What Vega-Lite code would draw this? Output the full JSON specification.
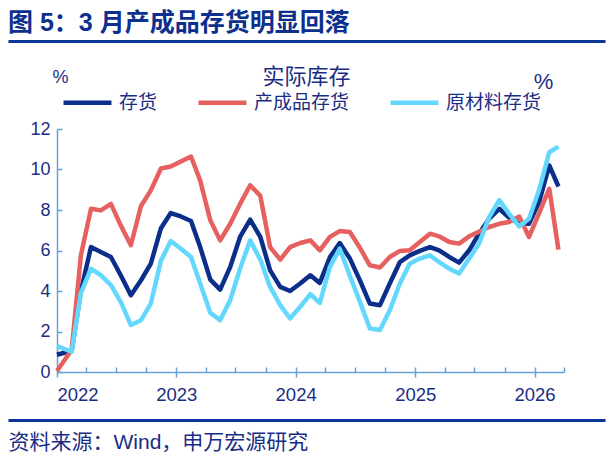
{
  "$schema": "https://vega.github.io/schema/vega-lite/v6.json",
  "width": 507,
  "height": 243,
  "autosize": {"type": "none"},
  "padding": {"left": 57, "top": 129, "right": 50, "bottom": 89},
  "background": "white",
  "title": {
    "text": "图 5：3 月产成品存货明显回落",
    "anchor": "start",
    "frame": "group",
    "dx": -49,
    "offset": 5,
    "fontSize": 25,
    "fontWeight": "bold",
    "font": "Liberation Sans, Noto Sans CJK SC",
    "color": "#0d2f8d"
  },
  "data": {
    "values": [
      {"date": "2022-01-01", "series": "存货", "value": 0.85},
      {"date": "2022-02-15", "series": "存货", "value": 1.05},
      {"date": "2022-03-15", "series": "存货", "value": 4.0},
      {"date": "2022-04-15", "series": "存货", "value": 6.17},
      {"date": "2022-05-15", "series": "存货", "value": 5.93},
      {"date": "2022-06-15", "series": "存货", "value": 5.68},
      {"date": "2022-07-15", "series": "存货", "value": 4.78},
      {"date": "2022-08-15", "series": "存货", "value": 3.79},
      {"date": "2022-09-15", "series": "存货", "value": 4.53},
      {"date": "2022-10-15", "series": "存货", "value": 5.35},
      {"date": "2022-11-15", "series": "存货", "value": 7.1},
      {"date": "2022-12-15", "series": "存货", "value": 7.85},
      {"date": "2023-01-15", "series": "存货", "value": 7.68},
      {"date": "2023-02-15", "series": "存货", "value": 7.46},
      {"date": "2023-03-15", "series": "存货", "value": 6.17},
      {"date": "2023-04-15", "series": "存货", "value": 4.56},
      {"date": "2023-05-15", "series": "存货", "value": 4.07},
      {"date": "2023-06-15", "series": "存货", "value": 5.19},
      {"date": "2023-07-15", "series": "存货", "value": 6.67},
      {"date": "2023-08-15", "series": "存货", "value": 7.52},
      {"date": "2023-09-15", "series": "存货", "value": 6.67},
      {"date": "2023-10-15", "series": "存货", "value": 5.02},
      {"date": "2023-11-15", "series": "存货", "value": 4.2},
      {"date": "2023-12-15", "series": "存货", "value": 4.0},
      {"date": "2024-01-15", "series": "存货", "value": 4.37},
      {"date": "2024-02-15", "series": "存货", "value": 4.78},
      {"date": "2024-03-15", "series": "存货", "value": 4.4},
      {"date": "2024-04-15", "series": "存货", "value": 5.68},
      {"date": "2024-05-15", "series": "存货", "value": 6.37},
      {"date": "2024-06-15", "series": "存货", "value": 5.6},
      {"date": "2024-07-15", "series": "存货", "value": 4.55},
      {"date": "2024-08-15", "series": "存货", "value": 3.38},
      {"date": "2024-09-15", "series": "存货", "value": 3.3},
      {"date": "2024-10-15", "series": "存货", "value": 4.37},
      {"date": "2024-11-15", "series": "存货", "value": 5.43},
      {"date": "2024-12-15", "series": "存货", "value": 5.76},
      {"date": "2025-01-15", "series": "存货", "value": 5.98},
      {"date": "2025-02-15", "series": "存货", "value": 6.17},
      {"date": "2025-03-15", "series": "存货", "value": 6.01},
      {"date": "2025-04-15", "series": "存货", "value": 5.68},
      {"date": "2025-05-15", "series": "存货", "value": 5.4},
      {"date": "2025-06-15", "series": "存货", "value": 6.01},
      {"date": "2025-07-15", "series": "存货", "value": 6.83},
      {"date": "2025-08-15", "series": "存货", "value": 7.57},
      {"date": "2025-09-15", "series": "存货", "value": 8.06},
      {"date": "2025-10-15", "series": "存货", "value": 7.62},
      {"date": "2025-11-15", "series": "存货", "value": 7.32},
      {"date": "2025-12-15", "series": "存货", "value": 7.32},
      {"date": "2026-01-15", "series": "存货", "value": 8.4},
      {"date": "2026-02-15", "series": "存货", "value": 10.2},
      {"date": "2026-03-15", "series": "存货", "value": 9.16},
      {"date": "2022-01-01", "series": "产成品存货", "value": 0.05},
      {"date": "2022-02-15", "series": "产成品存货", "value": 1.1},
      {"date": "2022-03-15", "series": "产成品存货", "value": 5.76},
      {"date": "2022-04-15", "series": "产成品存货", "value": 8.06},
      {"date": "2022-05-15", "series": "产成品存货", "value": 7.98},
      {"date": "2022-06-15", "series": "产成品存货", "value": 8.3},
      {"date": "2022-07-15", "series": "产成品存货", "value": 7.24},
      {"date": "2022-08-15", "series": "产成品存货", "value": 6.26},
      {"date": "2022-09-15", "series": "产成品存货", "value": 8.2},
      {"date": "2022-10-15", "series": "产成品存货", "value": 8.97},
      {"date": "2022-11-15", "series": "产成品存货", "value": 10.05},
      {"date": "2022-12-15", "series": "产成品存货", "value": 10.15},
      {"date": "2023-01-15", "series": "产成品存货", "value": 10.4},
      {"date": "2023-02-15", "series": "产成品存货", "value": 10.64},
      {"date": "2023-03-15", "series": "产成品存货", "value": 9.46},
      {"date": "2023-04-15", "series": "产成品存货", "value": 7.49},
      {"date": "2023-05-15", "series": "产成品存货", "value": 6.5},
      {"date": "2023-06-15", "series": "产成品存货", "value": 7.32},
      {"date": "2023-07-15", "series": "产成品存货", "value": 8.3},
      {"date": "2023-08-15", "series": "产成品存货", "value": 9.22},
      {"date": "2023-09-15", "series": "产成品存货", "value": 8.7},
      {"date": "2023-10-15", "series": "产成品存货", "value": 6.17},
      {"date": "2023-11-15", "series": "产成品存货", "value": 5.55},
      {"date": "2023-12-15", "series": "产成品存货", "value": 6.17},
      {"date": "2024-01-15", "series": "产成品存货", "value": 6.37},
      {"date": "2024-02-15", "series": "产成品存货", "value": 6.5},
      {"date": "2024-03-15", "series": "产成品存货", "value": 6.01},
      {"date": "2024-04-15", "series": "产成品存货", "value": 6.67},
      {"date": "2024-05-15", "series": "产成品存货", "value": 6.96},
      {"date": "2024-06-15", "series": "产成品存货", "value": 6.91},
      {"date": "2024-07-15", "series": "产成品存货", "value": 6.15},
      {"date": "2024-08-15", "series": "产成品存货", "value": 5.27},
      {"date": "2024-09-15", "series": "产成品存货", "value": 5.16},
      {"date": "2024-10-15", "series": "产成品存货", "value": 5.68},
      {"date": "2024-11-15", "series": "产成品存货", "value": 5.98},
      {"date": "2024-12-15", "series": "产成品存货", "value": 6.01},
      {"date": "2025-01-15", "series": "产成品存货", "value": 6.42},
      {"date": "2025-02-15", "series": "产成品存货", "value": 6.83},
      {"date": "2025-03-15", "series": "产成品存货", "value": 6.7},
      {"date": "2025-04-15", "series": "产成品存货", "value": 6.42},
      {"date": "2025-05-15", "series": "产成品存货", "value": 6.34},
      {"date": "2025-06-15", "series": "产成品存货", "value": 6.7},
      {"date": "2025-07-15", "series": "产成品存货", "value": 6.93},
      {"date": "2025-08-15", "series": "产成品存货", "value": 7.16},
      {"date": "2025-09-15", "series": "产成品存货", "value": 7.32},
      {"date": "2025-10-15", "series": "产成品存货", "value": 7.41},
      {"date": "2025-11-15", "series": "产成品存货", "value": 7.68},
      {"date": "2025-12-15", "series": "产成品存货", "value": 6.67},
      {"date": "2026-01-15", "series": "产成品存货", "value": 7.85},
      {"date": "2026-02-15", "series": "产成品存货", "value": 9.05},
      {"date": "2026-03-15", "series": "产成品存货", "value": 6.04},
      {"date": "2022-01-01", "series": "原材料存货", "value": 1.28},
      {"date": "2022-02-15", "series": "原材料存货", "value": 1.0},
      {"date": "2022-03-15", "series": "原材料存货", "value": 3.9},
      {"date": "2022-04-15", "series": "原材料存货", "value": 5.1},
      {"date": "2022-05-15", "series": "原材料存货", "value": 4.78},
      {"date": "2022-06-15", "series": "原材料存货", "value": 4.29},
      {"date": "2022-07-15", "series": "原材料存货", "value": 3.46},
      {"date": "2022-08-15", "series": "原材料存货", "value": 2.32},
      {"date": "2022-09-15", "series": "原材料存货", "value": 2.56},
      {"date": "2022-10-15", "series": "原材料存货", "value": 3.38},
      {"date": "2022-11-15", "series": "原材料存货", "value": 5.5},
      {"date": "2022-12-15", "series": "原材料存货", "value": 6.47},
      {"date": "2023-01-15", "series": "原材料存货", "value": 6.09},
      {"date": "2023-02-15", "series": "原材料存货", "value": 5.68},
      {"date": "2023-03-15", "series": "原材料存货", "value": 4.37},
      {"date": "2023-04-15", "series": "原材料存货", "value": 2.92},
      {"date": "2023-05-15", "series": "原材料存货", "value": 2.56},
      {"date": "2023-06-15", "series": "原材料存货", "value": 3.55},
      {"date": "2023-07-15", "series": "原材料存货", "value": 5.1},
      {"date": "2023-08-15", "series": "原材料存货", "value": 6.5},
      {"date": "2023-09-15", "series": "原材料存货", "value": 5.55},
      {"date": "2023-10-15", "series": "原材料存货", "value": 4.2},
      {"date": "2023-11-15", "series": "原材料存货", "value": 3.3},
      {"date": "2023-12-15", "series": "原材料存货", "value": 2.64},
      {"date": "2024-01-15", "series": "原材料存货", "value": 3.22},
      {"date": "2024-02-15", "series": "原材料存货", "value": 3.84},
      {"date": "2024-03-15", "series": "原材料存货", "value": 3.41},
      {"date": "2024-04-15", "series": "原材料存货", "value": 5.19},
      {"date": "2024-05-15", "series": "原材料存货", "value": 6.09},
      {"date": "2024-06-15", "series": "原材料存货", "value": 4.74},
      {"date": "2024-07-15", "series": "原材料存货", "value": 3.5},
      {"date": "2024-08-15", "series": "原材料存货", "value": 2.15},
      {"date": "2024-09-15", "series": "原材料存货", "value": 2.07},
      {"date": "2024-10-15", "series": "原材料存货", "value": 3.05},
      {"date": "2024-11-15", "series": "原材料存货", "value": 4.37},
      {"date": "2024-12-15", "series": "原材料存货", "value": 5.35},
      {"date": "2025-01-15", "series": "原材料存货", "value": 5.6},
      {"date": "2025-02-15", "series": "原材料存货", "value": 5.76},
      {"date": "2025-03-15", "series": "原材料存货", "value": 5.43},
      {"date": "2025-04-15", "series": "原材料存货", "value": 5.1},
      {"date": "2025-05-15", "series": "原材料存货", "value": 4.86},
      {"date": "2025-06-15", "series": "原材料存货", "value": 5.6},
      {"date": "2025-07-15", "series": "原材料存货", "value": 6.34},
      {"date": "2025-08-15", "series": "原材料存货", "value": 7.65},
      {"date": "2025-09-15", "series": "原材料存货", "value": 8.49},
      {"date": "2025-10-15", "series": "原材料存货", "value": 7.82},
      {"date": "2025-11-15", "series": "原材料存货", "value": 7.19},
      {"date": "2025-12-15", "series": "原材料存货", "value": 7.57},
      {"date": "2026-01-15", "series": "原材料存货", "value": 9.0},
      {"date": "2026-02-15", "series": "原材料存货", "value": 10.85},
      {"date": "2026-03-15", "series": "原材料存货", "value": 11.13}
    ]
  },
  "layer": [
    {
      "mark": {"type": "line", "strokeWidth": 4.5, "strokeJoin": "round"},
      "encoding": {
        "x": {
          "field": "date",
          "type": "temporal",
          "scale": {"domain": [{"year": 2022, "month": 1, "date": 1}, {"year": 2026, "month": 4, "date": 1}]},
          "axis": {
            "orient": "bottom",
            "title": null,
            "labels": false,
            "grid": false,
            "values": [
              {"year": 2022, "month": 1, "date": 1}, {"year": 2022, "month": 4, "date": 1}, {"year": 2022, "month": 7, "date": 1}, {"year": 2022, "month": 10, "date": 1},
              {"year": 2023, "month": 1, "date": 1}, {"year": 2023, "month": 4, "date": 1}, {"year": 2023, "month": 7, "date": 1}, {"year": 2023, "month": 10, "date": 1},
              {"year": 2024, "month": 1, "date": 1}, {"year": 2024, "month": 4, "date": 1}, {"year": 2024, "month": 7, "date": 1}, {"year": 2024, "month": 10, "date": 1},
              {"year": 2025, "month": 1, "date": 1}, {"year": 2025, "month": 4, "date": 1}, {"year": 2025, "month": 7, "date": 1}, {"year": 2025, "month": 10, "date": 1},
              {"year": 2026, "month": 1, "date": 1}, {"year": 2026, "month": 4, "date": 1}
            ],
            "tickSize": -5,
            "tickColor": "#67a0d9",
            "tickWidth": 1.5,
            "domainColor": "#67a0d9",
            "domainWidth": 1.5
          }
        },
        "y": {
          "field": "value",
          "type": "quantitative",
          "scale": {"domain": [0, 12]},
          "axis": {
            "orient": "left",
            "values": [0, 2, 4, 6, 8, 10, 12],
            "grid": false,
            "tickSize": -5,
            "tickColor": "#67a0d9",
            "tickWidth": 1.5,
            "domainColor": "#67a0d9",
            "domainWidth": 1.5,
            "labelPadding": 12,
            "labelFont": "Liberation Sans",
            "labelFontSize": 18,
            "labelColor": "#1a2d84",
            "title": "%",
            "titleAngle": 0,
            "titleX": 3,
            "titleY": -52,
            "titleAlign": "center",
            "titleBaseline": "middle",
            "titleFont": "Liberation Sans",
            "titleFontSize": 18,
            "titleFontWeight": "normal",
            "titleColor": "#1a2d84"
          }
        },
        "color": {
          "field": "series",
          "type": "nominal",
          "scale": {"domain": ["存货", "产成品存货", "原材料存货"], "range": ["#0a2e8a", "#e5605e", "#64d7fd"]},
          "legend": {
            "orient": "none",
            "legendX": 4,
            "legendY": -53,
            "direction": "horizontal",
            "title": null,
            "padding": 0,
            "symbolType": "stroke",
            "symbolSize": 2300,
            "symbolStrokeWidth": 4.5,
            "labelFont": "Noto Sans CJK SC",
            "labelFontSize": 19,
            "labelColor": "#1a2d84",
            "labelOffset": 5,
            "columnPadding": 31
          }
        }
      }
    },
    {
      "mark": {"type": "point", "opacity": 0},
      "encoding": {
        "x": {
          "field": "date",
          "type": "temporal",
          "scale": {"domain": [{"year": 2022, "month": 1, "date": 1}, {"year": 2026, "month": 4, "date": 1}]},
          "axis": {
            "orient": "bottom",
            "title": null,
            "domain": false,
            "grid": false,
            "values": [
              {"year": 2022, "month": 1, "date": 1}, {"year": 2023, "month": 1, "date": 1}, {"year": 2024, "month": 1, "date": 1},
              {"year": 2025, "month": 1, "date": 1}, {"year": 2026, "month": 1, "date": 1}
            ],
            "format": "%Y",
            "tickSize": 5,
            "tickColor": "#67a0d9",
            "tickWidth": 1.5,
            "labelPadding": 8,
            "labelDx": 4,
            "labelFont": "Liberation Sans",
            "labelFontSize": 18.5,
            "labelColor": "#1a2d84"
          }
        },
        "y": {
          "field": "value",
          "type": "quantitative",
          "scale": {"domain": [0, 12]},
          "axis": {
            "orient": "right",
            "labels": false,
            "ticks": false,
            "domain": false,
            "grid": false,
            "title": "%",
            "titleAngle": 0,
            "titleX": -21,
            "titleY": -48,
            "titleAlign": "center",
            "titleBaseline": "middle",
            "titleFont": "Liberation Sans",
            "titleFontSize": 22,
            "titleFontWeight": "normal",
            "titleColor": "#1a2d84"
          }
        }
      }
    },
    {
      "mark": {"type": "rule", "opacity": 0},
      "encoding": {
        "x": {
          "field": "date",
          "type": "temporal",
          "scale": {"domain": [{"year": 2022, "month": 1, "date": 1}, {"year": 2026, "month": 4, "date": 1}], "range": [-49, 548]},
          "axis": {
            "orient": "top",
            "offset": 88,
            "ticks": false,
            "labels": false,
            "grid": false,
            "domainColor": "#0b3597",
            "domainWidth": 3,
            "title": "实际库存",
            "titleX": 249,
            "titleY": 35,
            "titleAlign": "center",
            "titleBaseline": "middle",
            "titleFont": "Noto Sans CJK SC",
            "titleFontSize": 22,
            "titleFontWeight": "normal",
            "titleColor": "#1a2d84"
          }
        }
      }
    },
    {
      "mark": {"type": "rule", "opacity": 0},
      "encoding": {
        "x": {
          "field": "date",
          "type": "temporal",
          "scale": {"domain": [{"year": 2022, "month": 1, "date": 1}, {"year": 2026, "month": 4, "date": 1}], "range": [-49, 548]},
          "axis": {
            "orient": "bottom",
            "offset": 48,
            "ticks": false,
            "labels": false,
            "grid": false,
            "domainColor": "#0b3597",
            "domainWidth": 3,
            "title": "资料来源：Wind，申万宏源研究",
            "titleX": -49,
            "titleY": 22,
            "titleAlign": "left",
            "titleBaseline": "middle",
            "titleFont": "Liberation Sans, Noto Sans CJK SC",
            "titleFontSize": 21,
            "titleFontWeight": "normal",
            "titleColor": "#1a2d84"
          }
        }
      }
    }
  ],
  "resolve": {"scale": {"x": "independent"}, "axis": {"x": "independent", "y": "independent"}},
  "config": {"view": {"stroke": null}}
}
